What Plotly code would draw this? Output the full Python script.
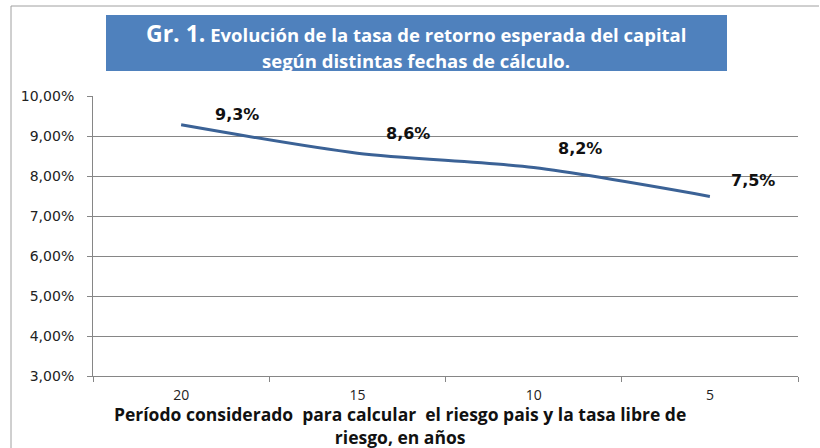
import plotly.graph_objects as go

categories = ["20", "15", "10", "5"]
values = [9.28, 8.57, 8.21, 7.49]
y_ticks = [3, 4, 5, 6, 7, 8, 9, 10]
y_tick_labels = ["3,00%", "4,00%", "5,00%", "6,00%", "7,00%", "8,00%", "9,00%", "10,00%"]

title_main = "Gr. 1."
title_rest = "Evolución de la tasa de retorno esperada del capital"
title_line2 = "según distintas fechas de cálculo."
x_title = "Período considerado  para calcular  el riesgo pais y la tasa libre de<br>riesgo, en años"

# label placement offsets (pixels) relative to each point
label_offsets = [(56, 10), (51, 20), (46, 19), (43, 16)]

L, R, T, B = 93, 22, 96, 72
W, H = 820, 448
pw, ph = W - L - R, H - T - B

def px_x(x):
    return (x - L) / pw

def px_y(y):
    return (H - B - y) / ph

fig = go.Figure()
fig.add_trace(go.Scatter(
    x=categories, y=values, mode="lines",
    line=dict(color="#3B6296", width=3, shape="spline", smoothing=0.8),
    hoverinfo="skip", showlegend=False,
))

for i, v in enumerate(values):
    dx, dy = label_offsets[i]
    fig.add_annotation(
        x=i, y=v, text="<b>" + f"{v:.1f}".replace(".", ",") + "%</b>",
        showarrow=False, xshift=dx, yshift=dy,
        font=dict(family="DejaVu Sans", size=16, color="#111111"),
    )

# title box
fig.add_shape(type="rect", xref="paper", yref="paper",
              x0=px_x(106), x1=px_x(727), y0=px_y(71), y1=px_y(15),
              fillcolor="#4F81BD", line=dict(width=0), layer="above")
fig.add_annotation(
    xref="paper", yref="paper", x=px_x(416), y=px_y(33),
    text="<b><span style='font-size:23px'>%s</span> %s</b>" % (title_main, title_rest),
    showarrow=False, font=dict(family="Open Sans", size=18.5, color="white"),
    xanchor="center", yanchor="middle",
)
fig.add_annotation(
    xref="paper", yref="paper", x=px_x(416), y=px_y(60),
    text="<b>%s</b>" % title_line2,
    showarrow=False, font=dict(family="Open Sans", size=18.5, color="white"),
    xanchor="center", yanchor="middle",
)

# x title
fig.add_annotation(
    xref="paper", yref="paper", x=px_x(400), y=px_y(425),
    text="<b>%s</b>" % x_title,
    showarrow=False, font=dict(family="Open Sans", size=17.5, color="#111111"),
    xanchor="center", yanchor="middle", align="center",
)

# outer frame lines
fig.add_shape(type="line", xref="paper", yref="paper",
              x0=px_x(11), x1=px_x(11), y0=px_y(6), y1=px_y(448),
              line=dict(color="#A0A0A0", width=1))
fig.add_shape(type="line", xref="paper", yref="paper",
              x0=px_x(11), x1=px_x(819), y0=px_y(6), y1=px_y(6),
              line=dict(color="#A0A0A0", width=1))

fig.update_layout(
    width=W, height=H,
    margin=dict(l=L, r=R, t=T, b=B),
    paper_bgcolor="white", plot_bgcolor="white",
    showlegend=False,
)
fig.update_xaxes(
    type="category", tickson="boundaries", ticks="outside", ticklen=5,
    tickcolor="#868686", showline=True, linecolor="#868686", linewidth=1,
    showgrid=False, tickfont=dict(family="Open Sans", size=14, color="#222222"),
    ticklabelstandoff=6,
    range=[-0.5, 3.5], fixedrange=True,
)
fig.update_yaxes(
    range=[3, 10], tickvals=y_ticks, ticktext=y_tick_labels,
    ticks="outside", ticklen=5, tickcolor="#868686",
    showline=True, linecolor="#868686", linewidth=1,
    showgrid=True, gridcolor="#868686", gridwidth=1,
    tickfont=dict(family="DejaVu Sans", size=14, color="#222222"),
    ticklabelstandoff=10,
    zeroline=False, fixedrange=True,
)

fig.write_html("out.html", config={"displayModeBar": False},
               post_script="document.body.style.margin='0';")
